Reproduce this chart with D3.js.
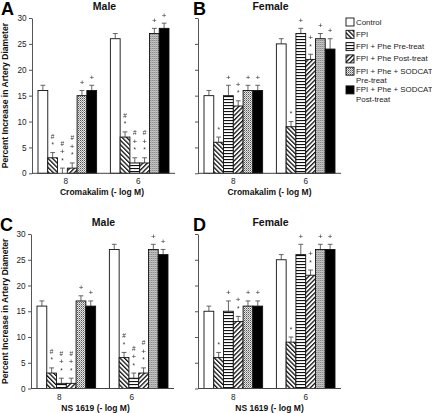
<!DOCTYPE html>
<html><head><meta charset="utf-8">
<script src="https://cdn.jsdelivr.net/npm/d3@7"></script>
<style>
body{margin:0;background:#fff}
svg{display:block}
text{font-family:"Liberation Sans",Arial,Helvetica,sans-serif}
</style>
</head><body>
<svg id="chart" width="432" height="413"></svg>
<script>
// ---------- data ----------
const groups = ["8", "6"];
const series = ["Control", "FPI", "FPI + Phe Pre-treat", "FPI + Phe Post-treat",
  "FPI + Phe + SODCAT Pre-treat", "FPI + Phe + SODCAT Post-treat"];
const legendLabels = [["Control"], ["FPI"], ["FPI + Phe Pre-treat"], ["FPI + Phe Post-treat"],
  ["FPI + Phe + SODCAT", "Pre-treat"], ["FPI + Phe + SODCAT", "Post-treat"]];
const yTicks = [0, 5, 10, 15, 20, 25, 30];

// Panel A: Male, Cromakalim
const maleCromMeans8 = [16, 3, 0, 1, 15, 16];
const maleCromErr8   = [1, 1, 1, 1, 1, 1];
const maleCromMeans6 = [26, 7, 2, 2, 27, 28];
const maleCromErr6   = [1, 1, 1, 1, 1, 1];
const maleCromMarks8 = ["", "#*", "#+*", "#+*", "+", "+"];
const maleCromMarks6 = ["", "#*", "#+*", "#+*", "+", "+"];

// Panel B: Female, Cromakalim
const femCromMeans8 = [15, 6, 15, 13, 16, 16];
const femCromErr8   = [1, 1, 2, 1, 1, 1];
const femCromMeans6 = [25, 9, 27, 22, 26, 24];
const femCromErr6   = [1, 1, 1, 1, 1, 2];
const femCromMarks8 = ["", "*", "+", "+*", "+", "+"];
const femCromMarks6 = ["", "*", "+", "+*", "+", "+"];

// Panel C: Male, NS 1619
const maleNsMeans8 = [16, 3, 1, 1, 17, 16];
const maleNsErr8   = [1, 1, 1, 1, 1, 1];
const maleNsMeans6 = [27, 6, 2, 3, 27, 26];
const maleNsErr6   = [1, 1, 1, 1, 1, 1];
const maleNsMarks8 = ["", "#*", "#+*", "#+*", "+", "+"];
const maleNsMarks6 = ["", "#*", "#+*", "#+*", "+", "+"];

// Panel D: Female, NS 1619
const femNsMeans8 = [15, 6, 15, 13, 16, 16];
const femNsErr8   = [1, 1, 2, 1, 1, 1];
const femNsMeans6 = [25, 9, 26, 22, 27, 27];
const femNsErr6   = [1, 1, 2, 1, 1, 1];
const femNsMarks8 = ["", "*", "+", "+*", "+", "+"];
const femNsMarks6 = ["", "*", "+", "+*", "+", "+"];

const panelTexts = [
  {letter: "A", title: "Male",   xlabel: "Cromakalim (- log M)"},
  {letter: "B", title: "Female", xlabel: "Cromakalim (- log M)"},
  {letter: "C", title: "Male",   xlabel: "NS 1619 (- log M)"},
  {letter: "D", title: "Female", xlabel: "NS 1619 (- log M)"}
];
const yLabel = "Percent Increase in Artery Diameter";

// ---------- layout ----------
const layout = [
  {x0: 32,  yTop: 18,  yBot: 173.3, showY: true,  lblShift: -1.5},
  {x0: 198, yTop: 18,  yBot: 173.3, showY: false, lblShift: 0},
  {x0: 31,  yTop: 234, yBot: 388.5, showY: true,  lblShift: -7},
  {x0: 198, yTop: 234, yBot: 388.5, showY: false, lblShift: 0}
];
const plotW = 143;

const panels = [
  {means: [maleCromMeans8, maleCromMeans6], errs: [maleCromErr8, maleCromErr6], marks: [maleCromMarks8, maleCromMarks6]},
  {means: [femCromMeans8, femCromMeans6], errs: [femCromErr8, femCromErr6], marks: [femCromMarks8, femCromMarks6]},
  {means: [maleNsMeans8, maleNsMeans6], errs: [maleNsErr8, maleNsErr6], marks: [maleNsMarks8, maleNsMarks6]},
  {means: [femNsMeans8, femNsMeans6], errs: [femNsErr8, femNsErr6], marks: [femNsMarks8, femNsMarks6]}
];

const svg = d3.select("#chart");
const defs = svg.append("defs");

// grayscale filter to avoid coloured subpixel fringes on small symbols
const gf = defs.append("filter").attr("id", "gray").attr("x", "-20%").attr("y", "-20%")
  .attr("width", "140%").attr("height", "140%");
gf.append("feColorMatrix").attr("type", "saturate").attr("values", 0);

function hatch(id, angle, size, lw) {
  const p = defs.append("pattern").attr("id", id).attr("patternUnits", "userSpaceOnUse")
    .attr("width", size).attr("height", size).attr("patternTransform", `rotate(${angle})`);
  p.append("rect").attr("width", size).attr("height", size).attr("fill", "#fff");
  p.append("rect").attr("x", 0).attr("y", 0).attr("width", lw).attr("height", size).attr("fill", "#111");
}
hatch("pFPI", -45, 3.2, 1.3);
hatch("pPost", 45, 3.2, 1.3);
{
  const p = defs.append("pattern").attr("id", "pPre").attr("patternUnits", "userSpaceOnUse")
    .attr("width", 4).attr("height", 3);
  p.append("rect").attr("width", 4).attr("height", 3).attr("fill", "#fff");
  p.append("rect").attr("y", 0).attr("width", 4).attr("height", 1.1).attr("fill", "#111");
}
{
  const p = defs.append("pattern").attr("id", "pSod").attr("patternUnits", "userSpaceOnUse")
    .attr("width", 2).attr("height", 2);
  p.append("rect").attr("width", 2).attr("height", 2).attr("fill", "#e6e6e6");
  p.append("rect").attr("x", 0).attr("y", 0).attr("width", 1).attr("height", 1).attr("fill", "#555");
  p.append("rect").attr("x", 1).attr("y", 1).attr("width", 1).attr("height", 1).attr("fill", "#9a9a9a");
}
const fills = ["#fff", "url(#pFPI)", "url(#pPre)", "url(#pPost)", "url(#pSod)", "#000"];
const color = d3.scaleOrdinal().domain(series).range(fills);

panels.forEach((pd, pi) => {
  const L = layout[pi], T = panelTexts[pi];
  const g = svg.append("g");
  const y = d3.scaleLinear().domain([0, 30]).range([L.yBot, L.yTop]);
  const x = d3.scaleBand().domain(groups).range([L.x0 + 6, L.x0 + plotW - 6]).paddingInner(0.19).paddingOuter(0);
  const xs = d3.scaleBand().domain(series).range([0, x.bandwidth()]).padding(0);

  // y axis
  const ax = d3.axisLeft(y).tickValues(yTicks).tickSize(3).tickSizeOuter(0).tickPadding(2.5);
  if (!L.showY) ax.tickFormat("");
  const ag = g.append("g").attr("transform", `translate(${L.x0},0)`).call(ax);
  ag.select(".domain").attr("stroke", "#555").attr("stroke-width", 1);
  ag.selectAll(".tick line").attr("stroke", "#555");
  ag.selectAll(".tick text").attr("font-size", 8.2).attr("fill", "#222")
    .style("font-family", '"Liberation Sans",Arial,sans-serif');

  // bars
  groups.forEach((gr, gi) => {
    const gg = g.append("g").attr("transform", `translate(${x(gr)},0)`);
    const data = series.map((s, si) => ({s, v: pd.means[gi][si], e: pd.errs[gi][si], m: pd.marks[gi][si]}));
    const symG = gg.append("g").attr("filter", "url(#gray)");
    data.forEach(d => {
      const cx = xs(d.s) + xs.bandwidth() / 2;
      gg.append("line").attr("x1", cx).attr("x2", cx).attr("y1", y(d.v)).attr("y2", y(d.v + d.e))
        .attr("stroke", "#555").attr("stroke-width", 0.9);
      gg.append("line").attr("x1", cx - 2.4).attr("x2", cx + 2.4).attr("y1", y(d.v + d.e)).attr("y2", y(d.v + d.e))
        .attr("stroke", "#555").attr("stroke-width", 0.9);
      const syms = d.m.split("").reverse();
      syms.forEach((c, k) => {
        symG.append("text").attr("x", cx).attr("y", y(d.v + d.e) - 8 - k * 8.5)
          .attr("text-anchor", "middle").attr("dominant-baseline", "central")
          .attr("font-size", c === "+" ? 8 : 6.5).attr("fill", "#333").text(c);
      });
    });
    gg.selectAll("rect.bar").data(data).join("rect").attr("class", "bar")
      .attr("x", d => xs(d.s)).attr("width", xs.bandwidth())
      .attr("y", d => y(d.v)).attr("height", d => y(0) - y(d.v))
      .attr("fill", d => color(d.s)).attr("stroke", "#111").attr("stroke-width", 0.9);
    g.append("text").attr("x", x(gr) + x.bandwidth() / 2 + L.lblShift).attr("y", L.yBot + 11)
      .attr("text-anchor", "middle").attr("font-size", 8.2).attr("fill", "#222").text(gr);
  });

  // baseline
  g.append("line").attr("x1", L.x0).attr("x2", L.x0 + plotW).attr("y1", y(0)).attr("y2", y(0))
    .attr("stroke", "#444").attr("stroke-width", 1);

  // texts
  const cxp = L.x0 + plotW / 2;
  g.append("text").attr("x", cxp + L.lblShift).attr("y", L.yBot + 22).attr("text-anchor", "middle")
    .attr("font-size", 8.5).attr("font-weight", "bold").attr("fill", "#111").text(T.xlabel);
  g.append("text").attr("x", cxp + 1).attr("y", L.yTop - 8.5).attr("text-anchor", "middle")
    .attr("font-size", 10.5).attr("font-weight", "bold").attr("fill", "#111").text(T.title);
  g.append("text").attr("x", L.x0 - (L.showY ? 31 : 5)).attr("y", L.yTop - 3).attr("text-anchor", "start")
    .attr("font-size", 18).attr("font-weight", "bold").attr("fill", "#000").text(T.letter);
  if (L.showY) {
    g.append("text").attr("transform", `translate(${8},${(L.yTop + L.yBot) / 2}) rotate(-90)`)
      .attr("text-anchor", "middle").attr("font-size", 8.6).attr("font-weight", "bold").attr("fill", "#111")
      .text(yLabel);
  }
});

// legend
const lg = svg.append("g");
let ly = 18;
legendLabels.forEach((lines, i) => {
  lg.append("rect").attr("x", 346).attr("y", ly).attr("width", 8).attr("height", 8)
    .attr("fill", fills[i]).attr("stroke", "#111").attr("stroke-width", 0.9);
  lines.forEach((t, k) => {
    lg.append("text").attr("x", 356).attr("y", ly + 4 + k * 9.7).attr("dominant-baseline", "central")
      .attr("font-size", 7.9).attr("fill", "#222").text(t);
  });
  ly += 12.3 + (lines.length - 1) * 6.4;
});
</script>
</body></html>
